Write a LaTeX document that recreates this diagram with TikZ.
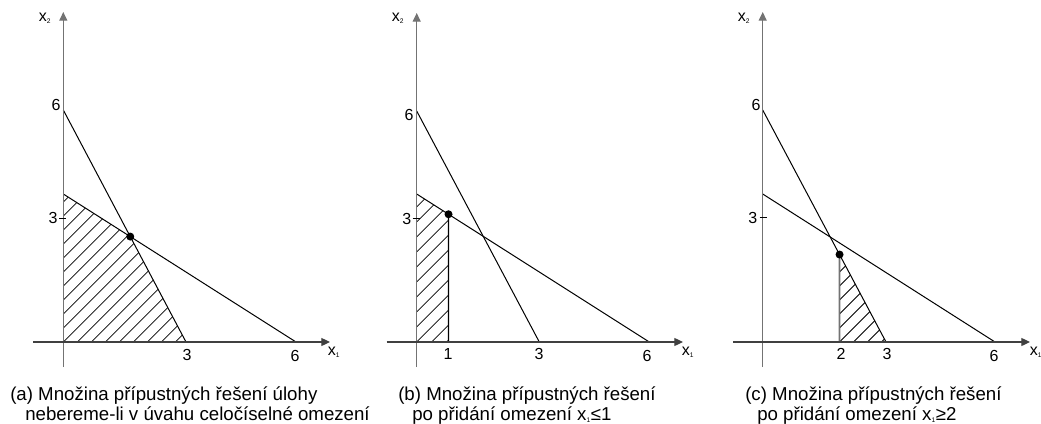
\documentclass[tikz,border=0pt]{standalone}
\usepackage{fontspec}
\setmainfont{Liberation Sans}
\usetikzlibrary{arrows.meta,intersections}
\begin{document}
\begin{tikzpicture}[x=0.75pt,y=-0.75pt,
  xaxis/.style={line width=0.9pt, draw=black!75, -{Triangle[length=6.5pt,width=6pt]}},
  yaxis/.style={line width=0.9pt, draw=black!55, -{Triangle[length=6.5pt,width=6pt]}},
  cline/.style={line width=0.75pt, draw=black},
  hatchln/.style={line width=0.55pt, draw=black},
  bound/.style={line width=0.9pt, draw=black},
  gbound/.style={line width=1.3pt, draw=black!55},
  dotnode/.style={circle, fill=black, inner sep=0pt, minimum size=6pt},
  tickln/.style={line width=0.6pt, draw=black},
  lab/.style={font=\fontsize{12}{14}\selectfont, inner sep=0pt},
  captxt/.style={font=\fontsize{14}{17}\selectfont, inner sep=0pt, anchor=base west}
]
\useasboundingbox (0,0) rectangle (1041,424);

% ---------------- panel (a) ----------------
\coordinate (aO) at (63.3,342);
\coordinate (aYb) at (63.3,367);
\coordinate (aYt) at (63.3,12);
\coordinate (aXl) at (33,342);
\coordinate (aXr) at (330,342);
\coordinate (aY6) at (63.3,110);
\coordinate (aY37) at (63.3,194);
\coordinate (aX3) at (186,342);
\coordinate (aX6) at (296,342);
\coordinate (aP) at (intersection of aY6--aX3 and aY37--aX6);
\coordinate (aT1) at (59.3,218);
\coordinate (aT2) at (66.3,218);
\begin{scope}
  \clip (aO) -- (aY37) -- (aP) -- (aX3) -- cycle;
  \foreach \k in {-22,...,14} \draw[hatchln] (aO) ++(\k*14,0) -- ++(320,-320);
\end{scope}
\draw[cline] (aY6) -- (aX3);
\draw[cline] (aY37) -- (aX6);
\draw[yaxis] (aYb) -- (aYt);
\draw[xaxis] (aXl) -- (aXr);
\draw[tickln] (aT1) -- (aT2);
\node[dotnode] (aD) at (aP) {};
\node[lab] (aL6) at (56,105) {6};
\node[lab] (aL3) at (53,218) {3};
\node[lab] (aLx3) at (187,355) {3};
\node[lab] (aLx6) at (295,356) {6};
\node[lab] (aLx1) at (334,352) {x\textsubscript{\tiny 1}};
\node[lab] (aLx2) at (45,18) {x\textsubscript{\tiny 2}};
\node[captxt] (aC1) at (10,400.7) {(a) Množina přípustných řešení úlohy};
\node[captxt] (aC2) at (25,420) {nebereme-li v úvahu celočíselné omezení};

% ---------------- panel (b) ----------------
\coordinate (bO) at (416.7,342);
\coordinate (bYb) at (416.7,367);
\coordinate (bYt) at (416.7,13);
\coordinate (bXl) at (386.7,342);
\coordinate (bXr) at (683,342);
\coordinate (bY6) at (416.7,111);
\coordinate (bY37) at (416.7,194);
\coordinate (bX3) at (539.3,342);
\coordinate (bX6) at (649.3,342);
\coordinate (bV0) at (448.5,342);
\coordinate (bV1) at (448.5,100);
\coordinate (bP) at (intersection of bY37--bX6 and bV0--bV1);
\coordinate (bT1) at (412.7,218.5);
\coordinate (bT2) at (419.7,218.5);
\begin{scope}
  \clip (bO) -- (bY37) -- (bP) -- (bV0) -- cycle;
  \foreach \k in {-14,...,4} \draw[hatchln] (bO) ++(\k*15,0) -- ++(320,-320);
\end{scope}
\draw[cline] (bY6) -- (bX3);
\draw[cline] (bY37) -- (bX6);
\draw[bound] (bV0) -- (bP);
\draw[yaxis] (bYb) -- (bYt);
\draw[xaxis] (bXl) -- (bXr);
\draw[tickln] (bT1) -- (bT2);
\node[dotnode] (bD) at (bP) {};
\node[lab] (bL6) at (409,115) {6};
\node[lab] (bL3) at (406.7,218.5) {3};
\node[lab] (bLx1n) at (448,354) {1};
\node[lab] (bLx3) at (539,354) {3};
\node[lab] (bLx6) at (647,356) {6};
\node[lab] (bLx1) at (688,352) {x\textsubscript{\tiny 1}};
\node[lab] (bLx2) at (398,18) {x\textsubscript{\tiny 2}};
\node[captxt] (bC1) at (398,400.7) {(b) Množina přípustných řešení};
\node[captxt] (bC2) at (412,420) {po přidání omezení x\textsubscript{\tiny 1}≤1};

% ---------------- panel (c) ----------------
\coordinate (cO) at (762.7,342);
\coordinate (cYb) at (762.7,367);
\coordinate (cYt) at (762.7,12);
\coordinate (cXl) at (733,342);
\coordinate (cXr) at (1030,342);
\coordinate (cY6) at (762.7,110);
\coordinate (cY37) at (762.7,194);
\coordinate (cX3) at (886,342);
\coordinate (cX6) at (995,342);
\coordinate (cV0) at (839.5,342);
\coordinate (cV1) at (839.5,100);
\coordinate (cP) at (intersection of cY6--cX3 and cV0--cV1);
\coordinate (cT1) at (759.7,217.7);
\coordinate (cT2) at (766.7,217.7);
\begin{scope}
  \clip (cV0) -- (cP) -- (cX3) -- cycle;
  \foreach \k in {-8,...,4} \draw[hatchln] (cV0) ++(\k*14,0) -- ++(320,-320);
\end{scope}
\draw[cline] (cY6) -- (cX3);
\draw[cline] (cY37) -- (cX6);
\draw[gbound] (cV0) -- (cP);
\draw[yaxis] (cYb) -- (cYt);
\draw[xaxis] (cXl) -- (cXr);
\draw[tickln] (cT1) -- (cT2);
\node[dotnode] (cD) at (cP) {};
\node[lab] (cL6) at (756,105) {6};
\node[lab] (cL3) at (752.7,217.7) {3};
\node[lab] (cLx2n) at (841,354) {2};
\node[lab] (cLx3) at (887,354) {3};
\node[lab] (cLx6) at (994,356) {6};
\node[lab] (cLx1) at (1036,352) {x\textsubscript{\tiny 1}};
\node[lab] (cLx2) at (744,18) {x\textsubscript{\tiny 2}};
\node[captxt] (cC1) at (745,400.7) {(c) Množina přípustných řešení};
\node[captxt] (cC2) at (757,420) {po přidání omezení x\textsubscript{\tiny 1}≥2};
\end{tikzpicture}
\end{document}
